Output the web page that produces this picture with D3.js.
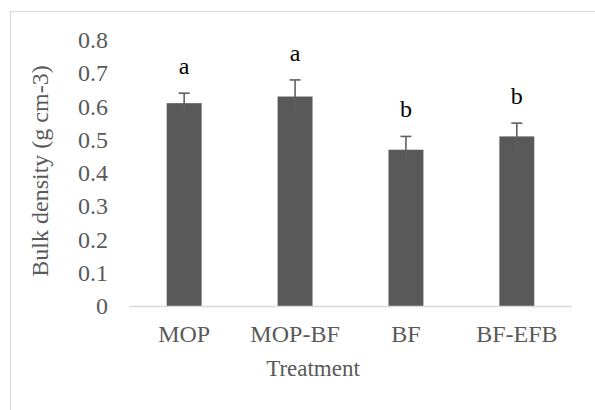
<!DOCTYPE html>
<html>
<head>
<meta charset="utf-8">
<script src="https://cdn.jsdelivr.net/npm/d3@7"></script>
<style>
  body { margin: 0; background: #fff; }
  text { font-family: "Liberation Serif", "Times New Roman", serif; }
</style>
</head>
<body>
<div id="chart"></div>
<script>
// data
const categories = ["MOP", "MOP-BF", "BF", "BF-EFB"];
const values = [0.61, 0.63, 0.47, 0.51];
const errors = [0.03, 0.05, 0.04, 0.04];
const letters = ["a", "a", "b", "b"];
const yTicks = [0, 0.1, 0.2, 0.3, 0.4, 0.5, 0.6, 0.7, 0.8];

const FONT = "'Liberation Serif', 'Times New Roman', serif";
const W = 595, H = 410;
const margin = { top: 40, right: 23, bottom: 104, left: 129 };
const width = W - margin.left - margin.right,
  height = H - margin.top - margin.bottom;

const svg = d3.select("#chart").append("svg")
  .attr("width", W)
  .attr("height", H);

// outer chart border (runs off the right and bottom edges)
svg.append("rect")
  .attr("x", 10.5).attr("y", 11.5)
  .attr("width", 700).attr("height", 700)
  .attr("fill", "none")
  .attr("stroke", "#d9d9d9");

const g = svg.append("g")
  .attr("transform", "translate(" + margin.left + "," + margin.top + ")");

const x = d3.scaleBand()
  .domain(categories)
  .range([0, width])
  .paddingInner(0.685)
  .paddingOuter(0.34);

const y = d3.scaleLinear()
  .domain([0, 0.8])
  .range([height, 0]);

// y tick labels (no axis line, Excel style)
const yAxis = g.append("g")
  .call(d3.axisLeft(y).tickValues(yTicks).tickSize(0).tickPadding(21)
    .tickFormat(d => d === 0 ? "0" : d3.format(".1f")(d)))
  .attr("font-family", FONT)
  .attr("font-size", 24);
yAxis.select(".domain").remove();
yAxis.selectAll("text").attr("fill", "#595959");

// bars
g.selectAll(".bar")
  .data(values)
  .enter()
  .append("rect")
  .attr("class", "bar")
  .attr("x", (d, i) => x(categories[i]))
  .attr("y", d => y(d))
  .attr("width", x.bandwidth())
  .attr("height", d => height - y(d))
  .attr("fill", "#595959");

// error bars
const eb = g.selectAll(".err")
  .data(values)
  .enter()
  .append("g")
  .attr("class", "err")
  .attr("stroke", "#5f5f5f")
  .attr("stroke-width", 1.6);
eb.append("line")
  .attr("x1", (d, i) => x(categories[i]) + x.bandwidth() / 2)
  .attr("x2", (d, i) => x(categories[i]) + x.bandwidth() / 2)
  .attr("y1", (d, i) => y(d + errors[i]))
  .attr("y2", (d, i) => y(d - errors[i]));
eb.append("line")
  .attr("x1", (d, i) => x(categories[i]) + x.bandwidth() / 2 - 5.5)
  .attr("x2", (d, i) => x(categories[i]) + x.bandwidth() / 2 + 5.5)
  .attr("y1", (d, i) => y(d + errors[i]))
  .attr("y2", (d, i) => y(d + errors[i]));

// significance letters
g.selectAll(".letter")
  .data(letters)
  .enter()
  .append("text")
  .attr("class", "letter")
  .attr("x", (d, i) => x(categories[i]) + x.bandwidth() / 2)
  .attr("y", (d, i) => y(values[i] + errors[i]) - 19)
  .attr("text-anchor", "middle")
  .attr("fill", "#000")
  .style("font-size", "24px")
  .text(d => d);

// baseline
g.append("line")
  .attr("x1", 0).attr("x2", width)
  .attr("y1", height + 0.5).attr("y2", height + 0.5)
  .attr("stroke", "#d9d9d9")
  .attr("stroke-width", 1.5);

// x category labels
const xAxis = g.append("g")
  .attr("transform", "translate(0," + height + ")")
  .call(d3.axisBottom(x).tickSize(0).tickPadding(19))
  .attr("font-family", FONT)
  .attr("font-size", 24);
xAxis.select(".domain").remove();
xAxis.selectAll("text")
  .attr("fill", "#595959")
  .attr("dy", "0.71em");

// axis titles
svg.append("text")
  .attr("x", 313)
  .attr("y", 376)
  .attr("text-anchor", "middle")
  .attr("fill", "#595959")
  .style("font-size", "23px")
  .text("Treatment");

svg.append("text")
  .attr("transform", "translate(48,171) rotate(-90)")
  .attr("text-anchor", "middle")
  .attr("fill", "#595959")
  .style("font-size", "24px")
  .text("Bulk density (g cm-3)");
</script>
</body>
</html>
